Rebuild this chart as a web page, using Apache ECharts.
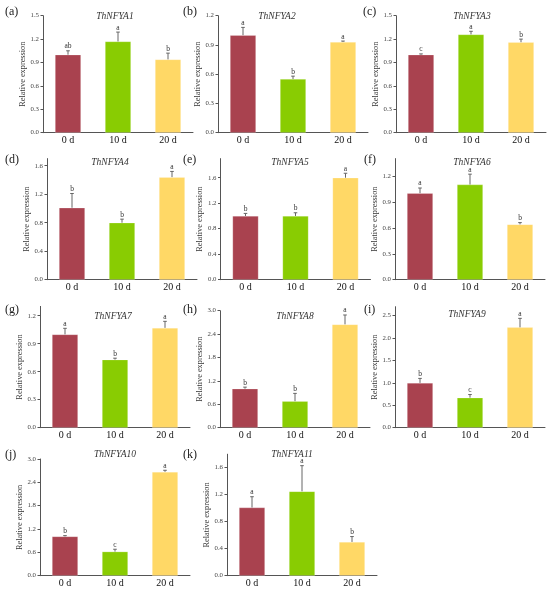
<!DOCTYPE html>
<html>
<head>
<meta charset="utf-8">
<script src="https://cdn.jsdelivr.net/npm/echarts@6/dist/echarts.min.js"></script>
<style>
html,body{margin:0;padding:0;background:#fff;}
#main{width:550px;height:591px;}
</style>
</head>
<body>
<div id="main"></div>
<script>
// ---- data ----
const categories = ['0 d', '10 d', '20 d'];
const genes = ['ThNFYA1','ThNFYA2','ThNFYA3','ThNFYA4','ThNFYA5','ThNFYA6','ThNFYA7','ThNFYA8','ThNFYA9','ThNFYA10','ThNFYA11'];
const panelTags = ['(a)','(b)','(c)','(d)','(e)','(f)','(g)','(h)','(i)','(j)','(k)'];
const means = [
  [1.00, 1.17, 0.94],
  [1.00, 0.55, 0.93],
  [1.00, 1.26, 1.16],
  [1.01, 0.80, 1.44],
  [1.00, 1.00, 1.60],
  [1.00, 1.10, 0.64],
  [1.00, 0.73, 1.07],
  [1.00, 0.68, 2.65],
  [1.00, 0.67, 2.24],
  [1.01, 0.62, 2.67],
  [1.01, 1.25, 0.50]
];
const errors = [
  [0.05, 0.12, 0.08],
  [0.08, 0.03, 0.01],
  [0.01, 0.04, 0.04],
  [0.20, 0.05, 0.08],
  [0.04, 0.05, 0.07],
  [0.06, 0.12, 0.02],
  [0.065, 0.015, 0.07],
  [0.04, 0.20, 0.24],
  [0.10, 0.07, 0.20],
  [0.02, 0.06, 0.04],
  [0.16, 0.38, 0.08]
];
const letters = [
  ['ab','a','b'],
  ['a','b','a'],
  ['c','a','b'],
  ['b','b','a'],
  ['b','b','a'],
  ['a','a','b'],
  ['a','b','a'],
  ['b','b','a'],
  ['b','c','a'],
  ['b','c','a'],
  ['a','a','b']
];
const yMax  = [1.5, 1.2, 1.5, 1.7, 1.9, 1.4, 1.3, 3.0, 2.7, 3.0, 1.8];
const yStep = [0.3, 0.3, 0.3, 0.4, 0.4, 0.3, 0.3, 0.6, 0.5, 0.6, 0.4];
const yAxisTitle = 'Relative expression';

// ---- layout (pixels) ----
// [gridLeft, gridTop, gridBottomY, titleCx, titleCy, tagX, tagCy]
const layout = [
  [43,   15.7, 132.7, 115, 17,  5,   13],
  [218,  15.7, 132.7, 277, 17,  183, 13],
  [396,  15.7, 132.7, 472, 17,  363, 13],
  [47,  158.6, 279.7, 110, 163, 5,   161],
  [220.5,158.6,279.7, 290, 163, 183, 161],
  [395, 158.6, 279.7, 472, 163, 364, 161],
  [40,  306.4, 427.7, 113, 317, 5,   311],
  [220, 310.7, 427.7, 295, 317, 183, 311],
  [395, 306.7, 427.7, 467, 315, 364, 311],
  [40,  459,   575.7, 115, 455, 5,   456],
  [227, 454.2, 575.7, 292, 455, 183, 456]
];
const barColors = ['#A9424F', '#89CC02', '#FFD866'];
const serif = '"Liberation Serif", "Times New Roman", serif';

const grids = [], xAxes = [], yAxes = [], series = [], titles = [];
genes.forEach((g, i) => {
  const L = layout[i];
  grids.push({left: L[0], top: L[1], width: 150, height: L[2] - L[1], containLabel: false});
  const ticks = [];
  for (let k = 0; k * yStep[i] <= yMax[i] + 1e-9; k++) ticks.push(+(k * yStep[i]).toFixed(2));
  xAxes.push({
    type: 'category', gridIndex: i, data: categories,
    axisLine: {lineStyle: {color: '#555', width: 1}},
    axisTick: {show: false},
    axisLabel: {fontFamily: serif, fontSize: 10, color: '#111', margin: 3}
  });
  yAxes.push({
    type: 'value', gridIndex: i, min: 0, max: yMax[i],
    name: yAxisTitle, nameLocation: 'middle', nameRotate: 90, nameGap: 15,
    nameTextStyle: {fontFamily: serif, fontSize: 8.3, color: '#333'},
    axisLine: {show: true, lineStyle: {color: '#555', width: 1}},
    axisTick: {show: true, length: 2.5, customValues: ticks, lineStyle: {color: '#555'}},
    axisLabel: {customValues: ticks, fontFamily: serif, fontSize: 6.8, color: '#444', margin: 4,
      formatter: v => Number(v).toFixed(1)},
    splitLine: {show: false}
  });
  series.push({
    type: 'bar', xAxisIndex: i, yAxisIndex: i, barWidth: 26,
    data: means[i].map((v, j) => ({value: v, itemStyle: {color: barColors[j]}})),
    itemStyle: {borderColor: 'rgba(255,255,255,0.35)', borderWidth: 0.6},
    emphasis: {disabled: true}, animation: false
  });
  series.push({
    type: 'custom', xAxisIndex: i, yAxisIndex: i, z: 5, animation: false,
    data: means[i].map((v, j) => [j, v, errors[i][j]]),
    renderItem: (params, api) => {
      const x = api.value(0), m = api.value(1), e = api.value(2);
      const p0 = api.coord([x, m]);
      const p1 = api.coord([x, m + e]);
      const st = {stroke: '#666', lineWidth: 1};
      return {type: 'group', children: [
        {type: 'line', shape: {x1: p0[0], y1: p0[1], x2: p1[0], y2: p1[1]}, style: st},
        {type: 'line', shape: {x1: p1[0] - 1.8, y1: p1[1], x2: p1[0] + 1.8, y2: p1[1]}, style: st},
        {type: 'text', x: p1[0], y: p1[1] - 0.5, style: {
          text: letters[i][params.dataIndex], align: 'center', verticalAlign: 'bottom',
          font: '7.5px ' + serif, fill: '#333'}}
      ]};
    }
  });
  titles.push({
    text: g, left: L[3], top: L[4] - 6, textAlign: 'center', padding: 0,
    textStyle: {fontFamily: serif, fontStyle: 'italic', fontWeight: 'normal', fontSize: 9.5, color: '#333'}
  });
  titles.push({
    text: panelTags[i], left: L[5], top: L[6] - 7, padding: 0,
    textStyle: {fontFamily: serif, fontWeight: 'normal', fontSize: 12, color: '#222'}
  });
});

const chart = echarts.init(document.getElementById('main'), null, {renderer: 'canvas'});
chart.setOption({
  animation: false,
  backgroundColor: '#fff',
  title: titles,
  grid: grids,
  xAxis: xAxes,
  yAxis: yAxes,
  series: series
});
</script>
</body>
</html>
